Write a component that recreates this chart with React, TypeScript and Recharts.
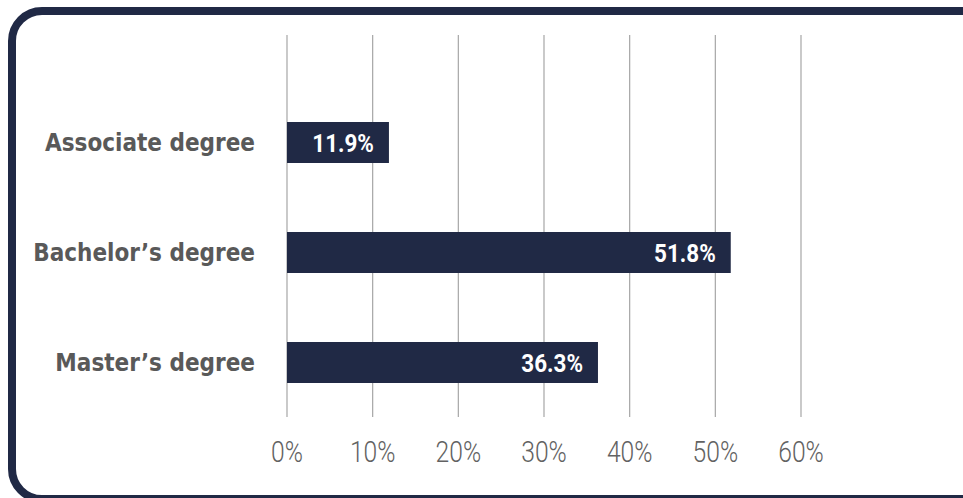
import React from 'react';
import { BarChart, Bar, XAxis, YAxis, CartesianGrid, LabelList } from 'recharts';

const DEGREES = ['Associate degree', 'Bachelor\u2019s degree', 'Master\u2019s degree'];
const SHARES = [11.9, 51.8, 36.3];
const PCT_TICKS = [0, 10, 20, 30, 40, 50, 60];

const NAVY = '#202945';
const COND = '"DejaVu Sans Condensed", "Liberation Sans Narrow", sans-serif';

const data = DEGREES.map((name, i) => ({ name, share: SHARES[i] }));

// white value inside the bar end, squeezed a bit to look condensed
const renderValueLabel = (props: any) => {
  const { x, y, width, height, value } = props;
  return (
    <g transform={`translate(${x + width - 15},${y + height / 2})`}>
      <text
        transform="scale(0.88,1)"
        dy="0.36em"
        textAnchor="end"
        fill="#ffffff"
        fontFamily="Roboto, sans-serif"
        fontWeight={700}
        fontSize={25.5}
      >
        {`${value}%`}
      </text>
    </g>
  );
};

const PctTick = (props: any) => {
  const { x, y, payload } = props;
  return (
    <g transform={`translate(${x},${y + 39})`}>
      <text
        transform="scale(0.85,1)"
        textAnchor="middle"
        fill="#626262"
        fontFamily="Roboto, sans-serif"
        fontWeight={300}
        fontSize={29}
      >
        {`${payload.value}%`}
      </text>
    </g>
  );
};

const App: React.FC = () => {
  return (
    <div style={{ position: 'fixed', left: 0, top: 0, width: 963, height: 498, overflow: 'hidden', background: '#fff' }}>
      {/* card frame, right and bottom edges run off the page */}
      <div
        style={{
          position: 'absolute',
          left: 8,
          top: 7,
          width: 1000,
          height: 480,
          border: `8px solid ${NAVY}`,
          borderRadius: 34,
        }}
      />
      <div style={{ position: 'absolute', left: 0, top: 0 }}>
        <BarChart
          width={963}
          height={498}
          data={data}
          layout="vertical"
          margin={{ top: 35, right: 162, bottom: 0, left: 0 }}
          barSize={41}
        >
          <CartesianGrid horizontal={false} vertical stroke="#a6a6a6" strokeWidth={1.2} />
          <XAxis
            type="number"
            domain={[0, 60]}
            ticks={PCT_TICKS}
            axisLine={false}
            tickLine={false}
            height={81}
            tickMargin={0}
            tick={<PctTick />}
          />
          <YAxis
            type="category"
            dataKey="name"
            width={287}
            axisLine={false}
            tickLine={false}
            tickMargin={26}
            padding={{ top: 52, bottom: 0 }}
            tick={{ fill: '#595959', fontSize: 24, fontWeight: 700, fontFamily: COND }}
          />
          <Bar dataKey="share" fill={NAVY} isAnimationActive={false}>
            <LabelList dataKey="share" content={renderValueLabel} />
          </Bar>
        </BarChart>
      </div>
    </div>
  );
};

export default App;
